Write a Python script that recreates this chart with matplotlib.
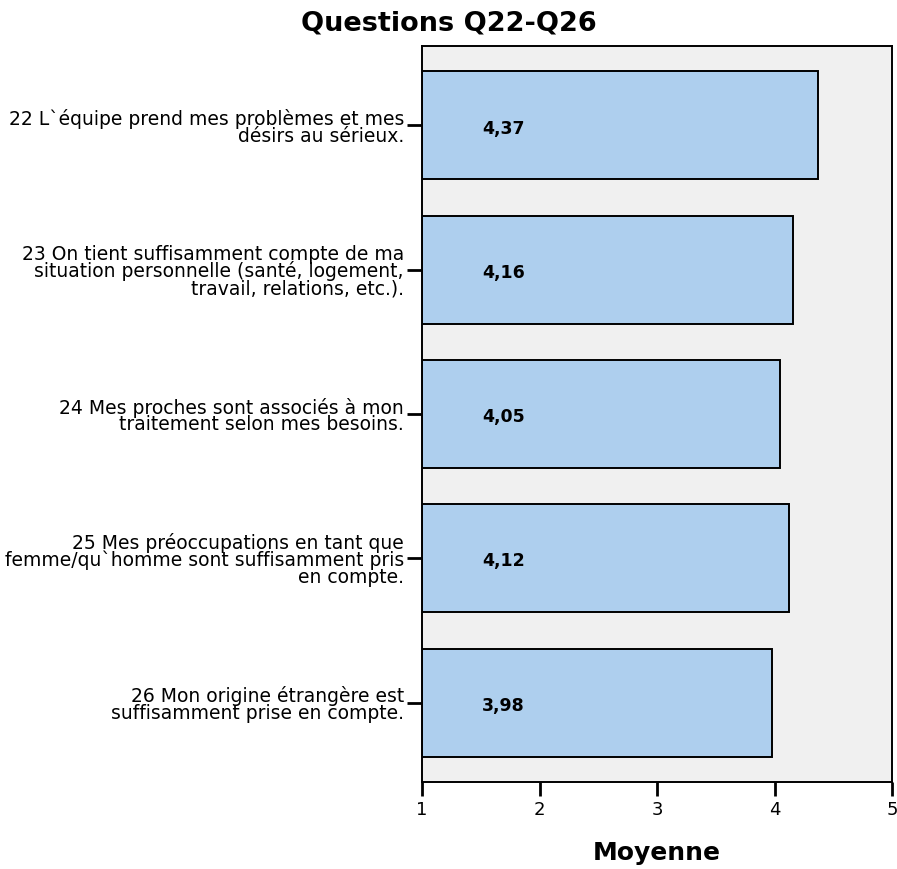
"""
Mean scores for questions Q22-Q26 as horizontal bars.
"""

import matplotlib
matplotlib.use("Agg")
import matplotlib.pyplot as plt

plt.rcParams["font.family"] = ["DejaVu Sans"]

questions = [
    "22 L`équipe prend mes problèmes et mes\ndésirs au sérieux.",
    "23 On tient suffisamment compte de ma\nsituation personnelle (santé, logement,\ntravail, relations, etc.).",
    "24 Mes proches sont associés à mon\ntraitement selon mes besoins.",
    "25 Mes préoccupations en tant que\nfemme/qu`homme sont suffisamment pris\nen compte.",
    "26 Mon origine étrangère est\nsuffisamment prise en compte.",
]
means = [4.37, 4.16, 4.05, 4.12, 3.98]
value_labels = ["4,37", "4,16", "4,05", "4,12", "3,98"]
x_ticks = [1, 2, 3, 4, 5]

fig = plt.figure(figsize=(8.97, 8.70), dpi=100)
ax = fig.add_axes([422 / 897, 1 - 783 / 870, 470 / 897, 736 / 870])
ax.set_facecolor("#f0f0f0")

pos = list(range(len(questions)))
ax.barh(pos, [m - 1 for m in means], left=1, height=0.75,
        color="#aecfee", edgecolor="black", linewidth=1.4)

for p, lab in zip(pos, value_labels):
    ax.text(1.51, p + 0.015, lab, ha="left", va="center",
            fontsize=12.5, fontweight="bold")

ax.set_xlim(1, 5)
ax.set_ylim(len(questions) - 0.45, -0.55)
ax.set_xticks(x_ticks)
ax.set_xticklabels([str(t) for t in x_ticks], fontsize=13)
ax.set_yticks(pos)
ax.set_yticklabels(questions, fontsize=13.5, linespacing=0.85, ha="right")

ax.tick_params(axis="x", direction="out", length=10, width=2, pad=3)
ax.tick_params(axis="y", direction="out", length=11, width=2, pad=2)
for sp in ax.spines.values():
    sp.set_linewidth(1.4)

ax.set_xlabel("Moyenne", fontsize=18, fontweight="bold", labelpad=16)
# title is centred on the whole figure, not on the axes
fig.text(0.5, 1 - 24 / 870, "Questions Q22-Q26", ha="center", va="center",
         fontsize=19.5, fontweight="bold")

fig.savefig("out.png", dpi=100)
